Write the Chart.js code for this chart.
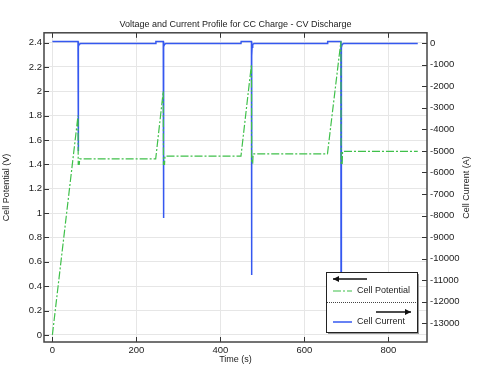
<!DOCTYPE html>
<html>
<head>
<meta charset="utf-8">
<script src="https://cdn.jsdelivr.net/npm/chart.js@4/dist/chart.umd.min.js"></script>
<style>
  html, body { margin: 0; padding: 0; background: #fff; }
</style>
</head>
<body>
<canvas id="profile" width="483" height="372"></canvas>
<script>
// cell potential (V) vs time (s)
const potentialTime = [0, 61, 61.5, 64, 65, 246, 264, 264.5, 267, 268, 449, 474, 474.5, 477, 478, 655, 687, 687.5, 690, 691, 870];
const potentialValues = [0, 1.80, 1.40, 1.40, 1.445, 1.445, 2.00, 1.40, 1.40, 1.467, 1.467, 2.22, 1.41, 1.41, 1.487, 1.487, 2.41, 1.40, 1.40, 1.507, 1.507];

// cell current (A) vs time (s)
const currentTime = [0, 61, 61.3, 61.8, 62.5, 64, 67, 246, 246.5, 264, 264.3, 264.8, 265.5, 267, 270, 449, 449.5, 474, 474.3, 474.8, 475.5, 477, 480, 655, 655.5, 687, 687.3, 687.8, 688.5, 690, 693, 870];
const currentValues = [75, 75, -5000, -500, -150, -50, -20, -20, 75, 75, -8120, -550, -170, -55, -20, -20, 75, 75, -10760, -600, -190, -60, -20, -20, 75, 75, -12800, -650, -200, -60, -20, -20];

const timeTicks = [0, 200, 400, 600, 800];
const potentialTicks = [0, 0.2, 0.4, 0.6, 0.8, 1, 1.2, 1.4, 1.6, 1.8, 2, 2.2, 2.4];
const currentTicks = [0, -1000, -2000, -3000, -4000, -5000, -6000, -7000, -8000, -9000, -10000, -11000, -12000, -13000];

const FONT = "'Liberation Sans', Arial, sans-serif";
const TEXT = "#222";
const GREEN = "#3fc04a";
const BLUE = "#3558f0";
const GREEN_DASH = [8, 2, 2, 2];

const pts = (xs, ys) => xs.map((x, i) => ({ x, y: ys[i] }));
const fixTicks = (list) => (scale) => {
  scale.ticks = list.map((value) => ({ value }));
};

// frame, inward tick marks and the rotated right-hand title
const frame = {
  id: "frame",
  afterDatasetsDraw(chart) {
    const { ctx, chartArea: a, scales } = chart;
    ctx.save();
    ctx.strokeStyle = "#333";
    ctx.lineWidth = 1;
    ctx.beginPath();
    const len = 5;
    scales.x.ticks.forEach((t) => {
      const px = Math.round(scales.x.getPixelForValue(t.value)) + 0.5;
      ctx.moveTo(px, a.bottom);
      ctx.lineTo(px, a.bottom - len);
      ctx.moveTo(px, a.top);
      ctx.lineTo(px, a.top + len);
    });
    scales.y.ticks.forEach((t) => {
      const py = Math.round(scales.y.getPixelForValue(t.value)) + 0.5;
      ctx.moveTo(a.left, py);
      ctx.lineTo(a.left + len, py);
    });
    scales.y2.ticks.forEach((t) => {
      const py = Math.round(scales.y2.getPixelForValue(t.value)) + 0.5;
      ctx.moveTo(a.right, py);
      ctx.lineTo(a.right - len, py);
    });
    ctx.stroke();
    ctx.lineWidth = 1.5;
    ctx.strokeStyle = "#444";
    ctx.strokeRect(a.left, a.top, a.right - a.left, a.bottom - a.top);

    ctx.fillStyle = TEXT;
    ctx.font = "9px " + FONT;
    ctx.textAlign = "center";
    ctx.textBaseline = "middle";
    ctx.translate(467, (a.top + a.bottom) / 2);
    ctx.rotate(-Math.PI / 2);
    ctx.fillText("Cell Current (A)", 0, 0);
    ctx.restore();
  },
};

function arrow(ctx, x1, x2, y, headLeft) {
  ctx.beginPath();
  ctx.moveTo(x1, y);
  ctx.lineTo(x2, y);
  ctx.stroke();
  const hx = headLeft ? x1 : x2;
  const d = headLeft ? 1 : -1;
  ctx.beginPath();
  ctx.moveTo(hx, y);
  ctx.lineTo(hx + d * 6, y - 3);
  ctx.lineTo(hx + d * 6, y + 3);
  ctx.closePath();
  ctx.fill();
}

// boxed legend with axis arrows, as in the original figure
const boxLegend = {
  id: "boxLegend",
  afterDraw(chart) {
    const { ctx } = chart;
    const ds = chart.data.datasets;
    const x = 326, y = 272, w = 91, h = 60;
    ctx.save();
    ctx.fillStyle = "#999";
    ctx.fillRect(x + 2, y + 2, w, h);
    ctx.fillStyle = "#fff";
    ctx.fillRect(x, y, w, h);
    ctx.strokeStyle = "#222";
    ctx.lineWidth = 1;
    ctx.strokeRect(x + 0.5, y + 0.5, w, h);

    ctx.fillStyle = "#111";
    ctx.strokeStyle = "#111";
    ctx.lineWidth = 1.5;
    arrow(ctx, 333, 367, 279, true);
    arrow(ctx, 376, 411, 312, false);

    ctx.lineWidth = 1;
    ctx.setLineDash([1, 1]);
    ctx.strokeStyle = "#444";
    ctx.beginPath();
    ctx.moveTo(x + 1, 302.5);
    ctx.lineTo(x + w, 302.5);
    ctx.stroke();

    const rows = [291, 322];
    ds.forEach((d, i) => {
      ctx.strokeStyle = d.borderColor;
      ctx.lineWidth = d.borderWidth;
      ctx.setLineDash(d.borderDash || []);
      ctx.beginPath();
      ctx.moveTo(333, rows[i]);
      ctx.lineTo(352, rows[i]);
      ctx.stroke();
      ctx.setLineDash([]);
      ctx.fillStyle = TEXT;
      ctx.font = "9px " + FONT;
      ctx.textAlign = "left";
      ctx.textBaseline = "middle";
      ctx.fillText(d.label, 357, rows[i]);
    });
    ctx.restore();
  },
};

const tickFont = { family: FONT, size: 9.5 };

new Chart(document.getElementById("profile"), {
  type: "line",
  data: {
    datasets: [
      {
        label: "Cell Potential",
        data: pts(potentialTime, potentialValues),
        yAxisID: "y",
        borderColor: GREEN,
        borderWidth: 1.2,
        borderDash: GREEN_DASH,
        pointRadius: 0,
        tension: 0,
      },
      {
        label: "Cell Current",
        data: pts(currentTime, currentValues),
        yAxisID: "y2",
        borderColor: BLUE,
        borderWidth: 1.5,
        pointRadius: 0,
        tension: 0,
      },
    ],
  },
  options: {
    responsive: false,
    animation: false,
    devicePixelRatio: 1,
    layout: { padding: 0 },
    scales: {
      x: {
        type: "linear",
        min: -20,
        max: 892,
        afterBuildTicks: fixTicks(timeTicks),
        afterFit: (s) => { s.height = 30; },
        grid: { color: "#e6e6e6", drawTicks: false },
        border: { display: false },
        ticks: { autoSkip: false, maxRotation: 0, padding: 3, color: TEXT, font: tickFont, callback: (v) => String(v) },
        title: { display: true, text: "Time (s)", color: TEXT, font: { family: FONT, size: 9 }, padding: { top: 0, bottom: 7 } },
      },
      y: {
        position: "left",
        min: -0.058,
        max: 2.48,
        afterBuildTicks: fixTicks(potentialTicks),
        afterFit: (s) => { s.width = 44; },
        grid: { color: "#e6e6e6", drawTicks: false },
        border: { display: false },
        ticks: { autoSkip: false, padding: 2, color: TEXT, font: tickFont, callback: (v) => String(+v.toFixed(1)) },
        title: { display: true, text: "Cell Potential (V)", color: TEXT, font: { family: FONT, size: 9 }, padding: { top: 1, bottom: 0 } },
      },
      y2: {
        position: "right",
        min: -13870,
        max: 480,
        afterBuildTicks: fixTicks(currentTicks),
        afterFit: (s) => { s.width = 56; },
        grid: { display: false, drawTicks: false },
        border: { display: false },
        ticks: { autoSkip: false, padding: 3, color: TEXT, font: tickFont, callback: (v) => String(v) },
      },
    },
    plugins: {
      legend: { display: false },
      tooltip: { enabled: false },
      title: {
        display: true,
        fullSize: false,
        text: "Voltage and Current Profile for CC Charge - CV Discharge",
        color: TEXT,
        font: { family: FONT, size: 9, weight: "normal" },
        padding: { top: 19, bottom: 3 },
      },
    },
  },
  plugins: [frame, boxLegend],
});
</script>
</body>
</html>
